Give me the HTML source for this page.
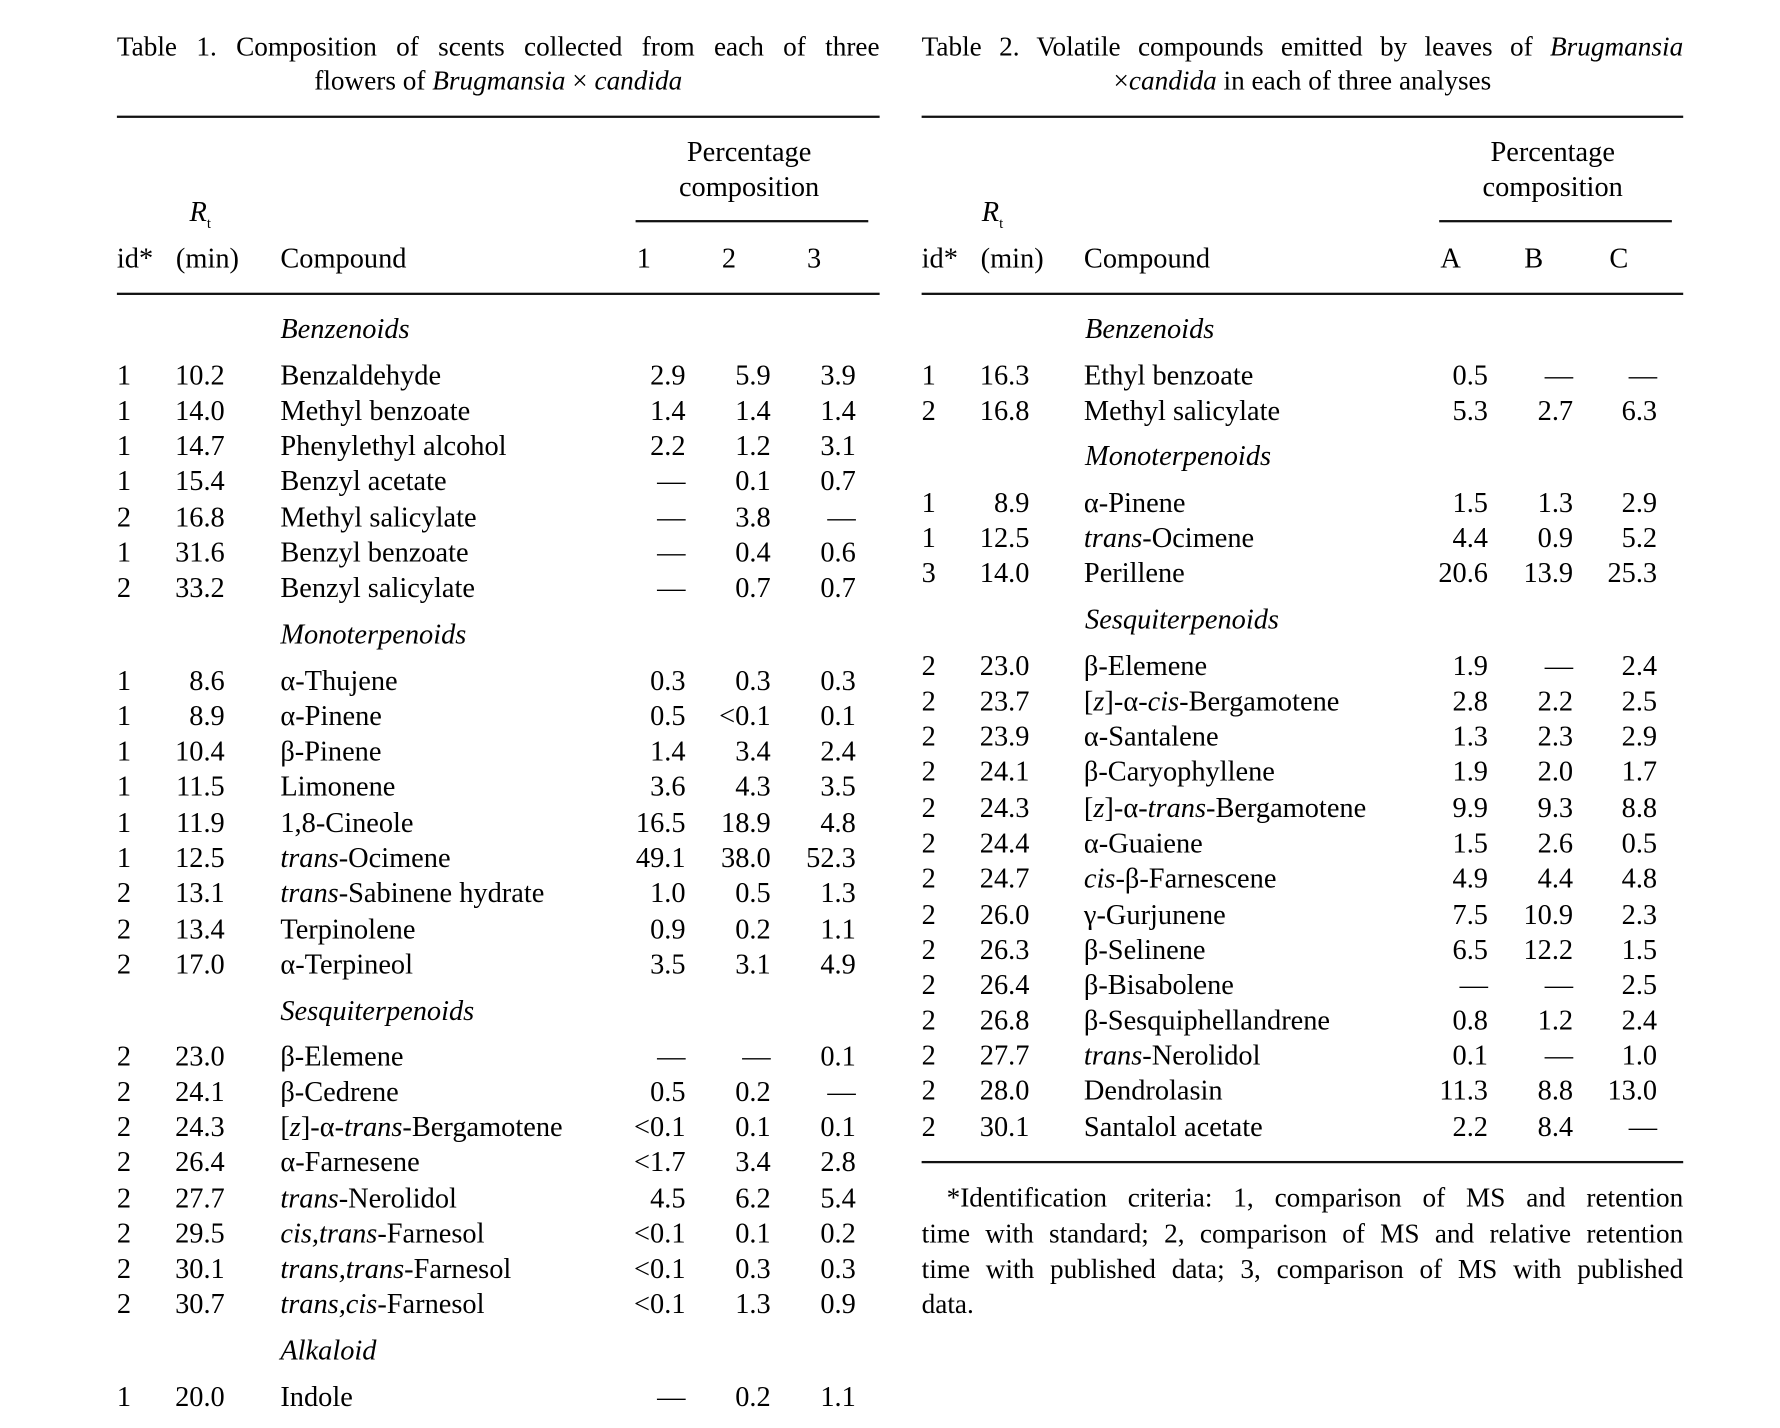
<!DOCTYPE html>
<html><head><meta charset="utf-8"><style>
html,body{margin:0;padding:0;background:#fff;}
body{width:1780px;height:1428px;overflow:hidden;position:relative;}
#c{position:absolute;left:0;top:1px;width:1560px;height:1252px;transform:scale(1.135);transform-origin:0 0;font-family:"Liberation Serif",serif;font-size:25px;color:#000;}
.a{position:absolute;white-space:nowrap;line-height:30px;height:30px;}
.r{position:absolute;height:30px;line-height:30px;white-space:nowrap;width:680px;}
.r span{position:absolute;top:0;}
.i{left:0}
.t{left:30px;width:65px;text-align:right}
.n{left:144px}
.x{left:437px;width:64px;text-align:right}
.y{left:512px;width:64px;text-align:right}
.z{left:587px;width:64px;text-align:right}
.T2 .n{left:143px}
.T2 .x{left:435px}
.T2 .y{left:510px}
.T2 .z{left:584px}
.h{font-style:italic;left:144px}
.rule{position:absolute;height:2px;background:#111;}
.tbl{position:absolute;top:0;height:1252px;width:680px;}
.title{position:absolute;left:0;width:672px;line-height:30px;font-size:24px;}
.j{text-align:justify;text-align-last:justify;}
em{font-style:italic}
</style></head><body><div id="c">

<div class="tbl" style="left:103px">
<div class="title j" style="top:26px">Table 1. Composition of scents collected from each of three</div>
<div class="title" style="top:56px;text-align:center">flowers of <em>Brugmansia</em> × <em>candida</em></div>
<div class="rule" style="top:101px;left:0;width:672px"></div>
<div class="a" style="top:119px;left:457px;width:200px;text-align:center">Percentage</div>
<div class="a" style="top:150px;left:457px;width:200px;text-align:center">composition</div>
<div class="rule" style="top:193px;left:457px;width:205px;height:1.5px"></div>
<div class="a" style="top:172px;left:64px;font-style:italic">R<sub style="font-size:13px;font-style:normal">t</sub></div>
<div class="r" style="top:213px"><span class="i">id*</span><span style="left:52px">(min)</span><span class="n">Compound</span><span style="left:458px">1</span><span style="left:533px">2</span><span style="left:608px">3</span></div>
<div class="rule" style="top:257px;left:0;width:672px"></div>

<div class="r" style="top:275px"><span class="h">Benzenoids</span></div>
<div class="r" style="top:316px"><span class="i">1</span><span class="t">10.2</span><span class="n">Benzaldehyde</span><span class="x">2.9</span><span class="y">5.9</span><span class="z">3.9</span></div>
<div class="r" style="top:347px"><span class="i">1</span><span class="t">14.0</span><span class="n">Methyl benzoate</span><span class="x">1.4</span><span class="y">1.4</span><span class="z">1.4</span></div>
<div class="r" style="top:378px"><span class="i">1</span><span class="t">14.7</span><span class="n">Phenylethyl alcohol</span><span class="x">2.2</span><span class="y">1.2</span><span class="z">3.1</span></div>
<div class="r" style="top:409px"><span class="i">1</span><span class="t">15.4</span><span class="n">Benzyl acetate</span><span class="x">—</span><span class="y">0.1</span><span class="z">0.7</span></div>
<div class="r" style="top:441px"><span class="i">2</span><span class="t">16.8</span><span class="n">Methyl salicylate</span><span class="x">—</span><span class="y">3.8</span><span class="z">—</span></div>
<div class="r" style="top:472px"><span class="i">1</span><span class="t">31.6</span><span class="n">Benzyl benzoate</span><span class="x">—</span><span class="y">0.4</span><span class="z">0.6</span></div>
<div class="r" style="top:503px"><span class="i">2</span><span class="t">33.2</span><span class="n">Benzyl salicylate</span><span class="x">—</span><span class="y">0.7</span><span class="z">0.7</span></div>
<div class="r" style="top:544px"><span class="h">Monoterpenoids</span></div>
<div class="r" style="top:585px"><span class="i">1</span><span class="t">8.6</span><span class="n">α-Thujene</span><span class="x">0.3</span><span class="y">0.3</span><span class="z">0.3</span></div>
<div class="r" style="top:616px"><span class="i">1</span><span class="t">8.9</span><span class="n">α-Pinene</span><span class="x">0.5</span><span class="y">&lt;0.1</span><span class="z">0.1</span></div>
<div class="r" style="top:647px"><span class="i">1</span><span class="t">10.4</span><span class="n">β-Pinene</span><span class="x">1.4</span><span class="y">3.4</span><span class="z">2.4</span></div>
<div class="r" style="top:678px"><span class="i">1</span><span class="t">11.5</span><span class="n">Limonene</span><span class="x">3.6</span><span class="y">4.3</span><span class="z">3.5</span></div>
<div class="r" style="top:710px"><span class="i">1</span><span class="t">11.9</span><span class="n">1,8-Cineole</span><span class="x">16.5</span><span class="y">18.9</span><span class="z">4.8</span></div>
<div class="r" style="top:741px"><span class="i">1</span><span class="t">12.5</span><span class="n"><em>trans</em>-Ocimene</span><span class="x">49.1</span><span class="y">38.0</span><span class="z">52.3</span></div>
<div class="r" style="top:772px"><span class="i">2</span><span class="t">13.1</span><span class="n"><em>trans</em>-Sabinene hydrate</span><span class="x">1.0</span><span class="y">0.5</span><span class="z">1.3</span></div>
<div class="r" style="top:804px"><span class="i">2</span><span class="t">13.4</span><span class="n">Terpinolene</span><span class="x">0.9</span><span class="y">0.2</span><span class="z">1.1</span></div>
<div class="r" style="top:835px"><span class="i">2</span><span class="t">17.0</span><span class="n">α-Terpineol</span><span class="x">3.5</span><span class="y">3.1</span><span class="z">4.9</span></div>
<div class="r" style="top:876px"><span class="h">Sesquiterpenoids</span></div>
<div class="r" style="top:916px"><span class="i">2</span><span class="t">23.0</span><span class="n">β-Elemene</span><span class="x">—</span><span class="y">—</span><span class="z">0.1</span></div>
<div class="r" style="top:947px"><span class="i">2</span><span class="t">24.1</span><span class="n">β-Cedrene</span><span class="x">0.5</span><span class="y">0.2</span><span class="z">—</span></div>
<div class="r" style="top:978px"><span class="i">2</span><span class="t">24.3</span><span class="n">[<em>z</em>]-α-<em>trans</em>-Bergamotene</span><span class="x">&lt;0.1</span><span class="y">0.1</span><span class="z">0.1</span></div>
<div class="r" style="top:1009px"><span class="i">2</span><span class="t">26.4</span><span class="n">α-Farnesene</span><span class="x">&lt;1.7</span><span class="y">3.4</span><span class="z">2.8</span></div>
<div class="r" style="top:1041px"><span class="i">2</span><span class="t">27.7</span><span class="n"><em>trans</em>-Nerolidol</span><span class="x">4.5</span><span class="y">6.2</span><span class="z">5.4</span></div>
<div class="r" style="top:1072px"><span class="i">2</span><span class="t">29.5</span><span class="n"><em>cis,trans</em>-Farnesol</span><span class="x">&lt;0.1</span><span class="y">0.1</span><span class="z">0.2</span></div>
<div class="r" style="top:1103px"><span class="i">2</span><span class="t">30.1</span><span class="n"><em>trans,trans</em>-Farnesol</span><span class="x">&lt;0.1</span><span class="y">0.3</span><span class="z">0.3</span></div>
<div class="r" style="top:1134px"><span class="i">2</span><span class="t">30.7</span><span class="n"><em>trans,cis</em>-Farnesol</span><span class="x">&lt;0.1</span><span class="y">1.3</span><span class="z">0.9</span></div>
<div class="r" style="top:1175px"><span class="h">Alkaloid</span></div>
<div class="r" style="top:1216px"><span class="i">1</span><span class="t">20.0</span><span class="n">Indole</span><span class="x">—</span><span class="y">0.2</span><span class="z">1.1</span></div>
</div>

<div class="tbl T2" style="left:812px">
<div class="title j" style="top:26px;width:671px">Table 2. Volatile compounds emitted by leaves of <em>Brugmansia</em></div>
<div class="title" style="top:56px;width:671px;text-align:center">×<em>candida</em> in each of three analyses</div>
<div class="rule" style="top:101px;left:0;width:671px"></div>
<div class="a" style="top:119px;left:456px;width:200px;text-align:center">Percentage</div>
<div class="a" style="top:150px;left:456px;width:200px;text-align:center">composition</div>
<div class="rule" style="top:193px;left:456px;width:205px;height:1.5px"></div>
<div class="a" style="top:172px;left:53px;font-style:italic">R<sub style="font-size:13px;font-style:normal">t</sub></div>
<div class="r" style="top:213px"><span class="i">id*</span><span style="left:52px">(min)</span><span class="n">Compound</span><span style="left:457px">A</span><span style="left:531px">B</span><span style="left:606px">C</span></div>
<div class="rule" style="top:257px;left:0;width:671px"></div>

<div class="r" style="top:275px"><span class="h">Benzenoids</span></div>
<div class="r" style="top:316px"><span class="i">1</span><span class="t">16.3</span><span class="n">Ethyl benzoate</span><span class="x">0.5</span><span class="y">—</span><span class="z">—</span></div>
<div class="r" style="top:347px"><span class="i">2</span><span class="t">16.8</span><span class="n">Methyl salicylate</span><span class="x">5.3</span><span class="y">2.7</span><span class="z">6.3</span></div>
<div class="r" style="top:387px"><span class="h">Monoterpenoids</span></div>
<div class="r" style="top:428px"><span class="i">1</span><span class="t">8.9</span><span class="n">α-Pinene</span><span class="x">1.5</span><span class="y">1.3</span><span class="z">2.9</span></div>
<div class="r" style="top:459px"><span class="i">1</span><span class="t">12.5</span><span class="n"><em>trans</em>-Ocimene</span><span class="x">4.4</span><span class="y">0.9</span><span class="z">5.2</span></div>
<div class="r" style="top:490px"><span class="i">3</span><span class="t">14.0</span><span class="n">Perillene</span><span class="x">20.6</span><span class="y">13.9</span><span class="z">25.3</span></div>
<div class="r" style="top:531px"><span class="h">Sesquiterpenoids</span></div>
<div class="r" style="top:572px"><span class="i">2</span><span class="t">23.0</span><span class="n">β-Elemene</span><span class="x">1.9</span><span class="y">—</span><span class="z">2.4</span></div>
<div class="r" style="top:603px"><span class="i">2</span><span class="t">23.7</span><span class="n">[<em>z</em>]-α-<em>cis</em>-Bergamotene</span><span class="x">2.8</span><span class="y">2.2</span><span class="z">2.5</span></div>
<div class="r" style="top:634px"><span class="i">2</span><span class="t">23.9</span><span class="n">α-Santalene</span><span class="x">1.3</span><span class="y">2.3</span><span class="z">2.9</span></div>
<div class="r" style="top:665px"><span class="i">2</span><span class="t">24.1</span><span class="n">β-Caryophyllene</span><span class="x">1.9</span><span class="y">2.0</span><span class="z">1.7</span></div>
<div class="r" style="top:697px"><span class="i">2</span><span class="t">24.3</span><span class="n">[<em>z</em>]-α-<em>trans</em>-Bergamotene</span><span class="x">9.9</span><span class="y">9.3</span><span class="z">8.8</span></div>
<div class="r" style="top:728px"><span class="i">2</span><span class="t">24.4</span><span class="n">α-Guaiene</span><span class="x">1.5</span><span class="y">2.6</span><span class="z">0.5</span></div>
<div class="r" style="top:759px"><span class="i">2</span><span class="t">24.7</span><span class="n"><em>cis</em>-β-Farnescene</span><span class="x">4.9</span><span class="y">4.4</span><span class="z">4.8</span></div>
<div class="r" style="top:791px"><span class="i">2</span><span class="t">26.0</span><span class="n">γ-Gurjunene</span><span class="x">7.5</span><span class="y">10.9</span><span class="z">2.3</span></div>
<div class="r" style="top:822px"><span class="i">2</span><span class="t">26.3</span><span class="n">β-Selinene</span><span class="x">6.5</span><span class="y">12.2</span><span class="z">1.5</span></div>
<div class="r" style="top:853px"><span class="i">2</span><span class="t">26.4</span><span class="n">β-Bisabolene</span><span class="x">—</span><span class="y">—</span><span class="z">2.5</span></div>
<div class="r" style="top:884px"><span class="i">2</span><span class="t">26.8</span><span class="n">β-Sesquiphellandrene</span><span class="x">0.8</span><span class="y">1.2</span><span class="z">2.4</span></div>
<div class="r" style="top:915px"><span class="i">2</span><span class="t">27.7</span><span class="n"><em>trans</em>-Nerolidol</span><span class="x">0.1</span><span class="y">—</span><span class="z">1.0</span></div>
<div class="r" style="top:946px"><span class="i">2</span><span class="t">28.0</span><span class="n">Dendrolasin</span><span class="x">11.3</span><span class="y">8.8</span><span class="z">13.0</span></div>
<div class="r" style="top:978px"><span class="i">2</span><span class="t">30.1</span><span class="n">Santalol acetate</span><span class="x">2.2</span><span class="y">8.4</span><span class="z">—</span></div>
<div class="rule" style="top:1022px;left:0;width:671px"></div>
<div class="title j" style="top:1040px;width:649px;left:22px">*Identification criteria: 1, comparison of MS and retention</div>
<div class="title j" style="top:1072px;width:671px">time with standard; 2, comparison of MS and relative retention</div>
<div class="title j" style="top:1103px;width:671px">time with published data; 3, comparison of MS with published</div>
<div class="title" style="top:1134px;width:671px">data.</div>
</div>

</div></body></html>
